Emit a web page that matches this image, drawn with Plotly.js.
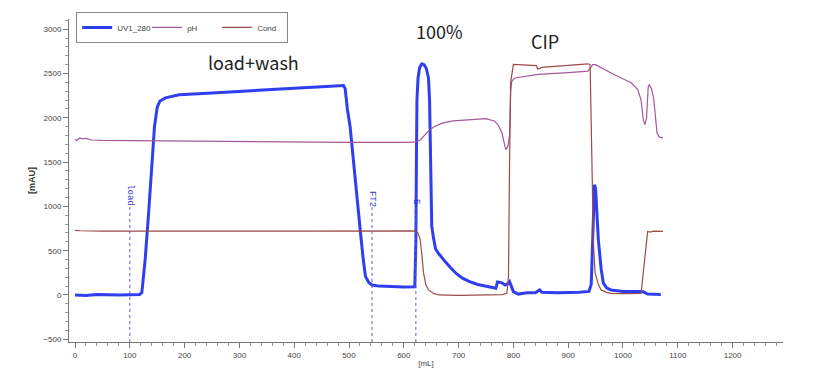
<!DOCTYPE html>
<html>
<head>
<meta charset="utf-8">
<script src="https://cdn.plot.ly/plotly-3.0.1.min.js"></script>
<style>html,body{margin:0;padding:0;background:#fff;}#chart{width:830px;height:390px;}</style>
</head>
<body>
<div id="chart"></div>
<script>
// UV1_280 (mAU) vs volume (mL)
const uvX = [0,20,40,60,80,100,118,122,128,134,140,145,150,155,165,190,250,300,350,400,450,490,493,497,502,508,514,521,526,530,536,542,555,573,600,620,621,622,623,624,626,629,633,637,641,645,647,648.5,649.5,651,654,658,662,668,675,685,696,707,720,735,751,768,771,778,785,790,793,797,800,809,825,840,848,852,880,920,938,942,944,946,948,950,952,955,960,964,970,978,1000,1020,1036,1045,1069];
const uvY = [0,-5,5,0,0,2,5,30,400,900,1500,1900,2120,2190,2225,2260,2280,2300,2320,2335,2350,2365,2330,2100,1900,1500,1100,700,400,210,140,113,100,94,90,92,300,600,1500,2200,2450,2570,2610,2600,2560,2450,2200,1700,1200,780,650,520,480,430,380,310,240,190,150,118,94,76,147,140,113,130,151,90,38,10,25,25,57,30,25,30,40,120,500,1000,1245,1200,950,623,300,136,80,57,40,35,38,10,5];
// pH trace (as plotted on the mAU scale)
const phX = [0,3,8,15,20,30,50,100,200,300,400,500,600,620,630,645,655,670,690,720,750,765,772,779,783,786,790,793,795,797,803,845,900,936,945,950,980,1015,1027,1033,1037,1040,1043,1046,1048,1052,1056,1059,1062,1066,1073];
const phY = [1755,1745,1770,1762,1768,1750,1745,1742,1737,1730,1725,1722,1722,1725,1750,1850,1900,1940,1965,1980,1990,1965,1920,1834,1700,1641,1680,1800,2300,2415,2450,2490,2510,2528,2600,2600,2500,2396,2320,2200,1980,1924,2000,2350,2377,2330,2220,2000,1830,1785,1773];
// Cond trace (as plotted on the mAU scale)
const condX = [0,10,50,100,200,400,500,540,622,626,630,633,636,640,645,655,664,700,750,780,788,791,793,795,800,842,844,848,851,900,936,940,942,944,946,949,955,960,970,978,1000,1033,1036,1039,1043,1045,1050,1055,1073];
const condY = [730,725,722,724,722,720,722,726,724,700,623,450,249,120,57,15,0,-5,-3,5,19,200,1500,2400,2604,2590,2550,2555,2570,2590,2610,2600,2000,1000,600,249,120,57,30,19,15,19,200,434,650,717,710,720,717];
// Fraction / event markers
const markX = [100,542,622];
const markTop = [1000,990,1010];
const markText = ['load','FT2','E'];
const markTextY = [1129,1084,1050];
// Annotations
const noteText = ['load+wash','100%','CIP'];
const noteX = [325,666,858];
const noteY = [2630,2980,2867];

const traces = [
  {x: uvX, y: uvY, name: 'UV1_280', mode: 'lines', line: {color: '#2f3ff0', width: 3}},
  {x: phX, y: phY, name: 'pH', mode: 'lines', line: {color: '#a4589e', width: 1.2}},
  {x: condX, y: condY, name: 'Cond', mode: 'lines', line: {color: '#9c4a4a', width: 1.2}}
];

const shapes = markX.map((mx, i) => ({
  type: 'line', xref: 'x', yref: 'y', x0: mx, x1: mx, y0: -531, y1: markTop[i],
  line: {color: '#5b5bd6', width: 1, dash: 'dot'}
}));

const annotations = markX.map((mx, i) => ({
  x: mx, y: markTextY[i], xref: 'x', yref: 'y', text: markText[i], showarrow: false,
  textangle: 90, font: {family: 'Liberation Mono, monospace', size: 9, color: '#3a3ad0'}
})).concat(noteText.map((t, i) => ({
  x: noteX[i], y: noteY[i], xref: 'x', yref: 'y', text: t, showarrow: false,
  font: {family: 'Noto Sans CJK SC, Noto Sans, sans-serif', size: 18, color: '#222'}
})));

const layout = {
  width: 830, height: 390,
  margin: {l: 69, r: 47, t: 19, b: 48},
  paper_bgcolor: '#fff', plot_bgcolor: '#fff',
  font: {family: 'Liberation Sans, Arial, sans-serif', size: 8, color: '#444'},
  showlegend: true,
  legend: {orientation: 'h', x: 0.01, xanchor: 'left', y: 1.022, yanchor: 'top',
    bordercolor: '#888', borderwidth: 1, bgcolor: '#fff', itemwidth: 30,
    entrywidth: 25, entrywidthmode: 'pixels',
    font: {size: 8, color: '#444'}, tracegroupgap: 0},
  xaxis: {
    range: [-11, 1292], showgrid: false, zeroline: false,
    showline: true, linecolor: '#777', linewidth: 1,
    ticks: 'outside', ticklen: 5, tickcolor: '#777', dtick: 100, tick0: 0,
    minor: {ticks: 'outside', ticklen: 3, tickcolor: '#999', dtick: 20},
    tickfont: {size: 8, color: '#444'},
    title: {text: '[mL]', font: {size: 8, color: '#444'}, standoff: 1}
  },
  yaxis: {
    range: [-531, 3116], showgrid: false, zeroline: false,
    showline: true, linecolor: '#777', linewidth: 1,
    ticks: 'outside', ticklen: 5, tickcolor: '#777', dtick: 500, tick0: 0,
    minor: {ticks: 'outside', ticklen: 3, tickcolor: '#999', dtick: 100},
    tickfont: {size: 8, color: '#444'},
    title: {text: '<b>[mAU]</b>', font: {size: 9, color: '#333'}, standoff: 6}
  },
  shapes: shapes,
  annotations: annotations
};

Plotly.newPlot('chart', traces, layout, {displayModeBar: false, staticPlot: true});
</script>
</body>
</html>
